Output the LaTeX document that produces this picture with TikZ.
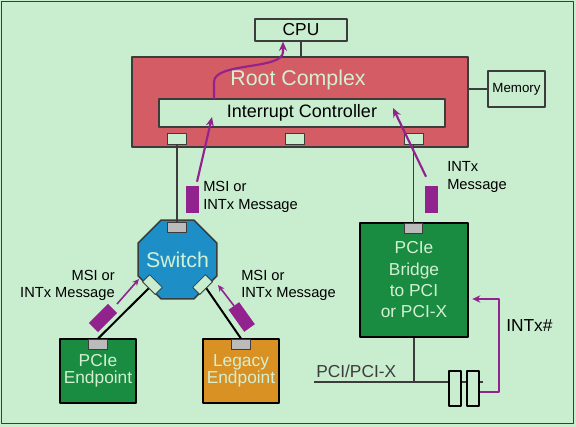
\documentclass[tikz,border=0pt]{standalone}
\usepackage{fontspec}
\setmainfont{Liberation Sans}
\usetikzlibrary{shapes.geometric,arrows.meta}
\definecolor{bggreen}{RGB}{201,237,207}
\definecolor{rcred}{RGB}{212,92,100}
\definecolor{swblue}{RGB}{30,143,198}
\definecolor{boxgreen}{RGB}{26,140,66}
\definecolor{legorange}{RGB}{218,145,36}
\definecolor{msgpurple}{RGB}{146,34,142}
\definecolor{slotgray}{RGB}{187,187,187}
\definecolor{edgegray}{RGB}{60,60,60}
\definecolor{lighttext}{RGB}{210,240,210}

\begin{document}
\begin{tikzpicture}[x=0.75pt, y=-0.75pt, line join=round, >=Stealth,
	box/.style={draw=edgegray, line width=0.9pt, inner sep=0pt},
	slot/.style={draw=edgegray, line width=0.6pt, fill=bggreen, minimum width=14.25pt, minimum height=8.25pt, inner sep=0pt},
	grayslot/.style={draw=edgegray, line width=0.6pt, fill=slotgray, minimum width=14pt, minimum height=7.5pt, inner sep=0pt},
	dev/.style={draw=black, line width=1.5pt, text=lighttext, align=center, inner sep=0pt, font=\fontsize{13}{13}\selectfont},
	pcislot/.style={draw=black, line width=1.2pt, fill=bggreen, minimum width=9pt, minimum height=26.25pt, inner sep=0pt},
	msg/.style={fill=msgpurple, minimum width=9.75pt, minimum height=20.25pt, inner sep=0pt},
	msgtext/.style={font=\fontsize{11}{13}\selectfont, inner sep=0pt},
	irq/.style={msgpurple, line width=1.6pt, -{Stealth[length=7pt,width=6pt]}},
	smallirq/.style={msgpurple, line width=1.2pt, -{Stealth[length=5pt,width=4.5pt]}},
	link/.style={black, line width=1.5pt},
	wire/.style={edgegray, line width=0.9pt}]
	\fill[bggreen] (0,0) rectangle (576,427);
	\useasboundingbox (0,0) rectangle (576,427);
	\draw[edgegray, line width=0.9pt] (1.5,1.5) rectangle (573.5,423.5);
	% root complex and what hangs off it
	\node[box, minimum width=69pt, minimum height=16.5pt, font=\fontsize{13}{15}\selectfont] (cpu) at (301,30) {CPU};
	\node[box, line width=1.5pt, fill=rcred, minimum width=252pt, minimum height=67.5pt] (rc) at (300,102) {};
	\node[text=lighttext, font=\fontsize{16}{18}\selectfont] (rctitle) at (298,80) {Root Complex};
	\node[box, fill=bggreen, minimum width=214.5pt, minimum height=21pt, font=\fontsize{13.5}{15}\selectfont] (ic) at (302,113) {Interrupt Controller};
	\foreach \i/\x in {1/177,2/295,3/413.5} \node[slot] (rcs\i) at (\x,138.5) {};
	\node[box, minimum width=42.75pt, minimum height=27pt, font=\fontsize{10}{12}\selectfont] (mem) at (516.5,89) {Memory};
	\draw[wire] (cpu.south) -- (cpu.south |- rc.north);
	\draw[wire] (rc.east |- mem) -- (mem.west);
	% switch
	\node[regular polygon, regular polygon sides=8, minimum size=64pt, draw=edgegray, line width=1.2pt, fill=swblue, inner sep=0pt] (sw) at (177.5,259.5) {};
	\node[text=lighttext, font=\fontsize{16}{18}\selectfont] (swtitle) at (177.5,260) {Switch};
	\node[grayslot] (swt) at (177,227) {};
	\node[slot, rotate=-45, minimum width=13.5pt, minimum height=7.5pt] (swl) at (152.4,284.6) {};
	\node[slot, rotate=45, minimum width=13.5pt, minimum height=7.5pt] (swr) at (202.6,284.6) {};
	% endpoints and bridge
	\node[dev, fill=boxgreen, minimum width=57pt, minimum height=48pt] (pe) at (98,371) {PCIe\\Endpoint};
	\node[dev, fill=legorange, minimum width=57pt, minimum height=48pt] (le) at (241,371) {Legacy\\Endpoint};
	\node[grayslot] (pes) at (98,344) {};
	\node[grayslot] (les) at (241,344) {};
	\node[dev, fill=boxgreen, minimum width=81pt, minimum height=85.5pt, font=\fontsize{13}{16}\selectfont] (br) at (414,280) {PCIe\\Bridge\\to PCI\\or PCI-X};
	\node[grayslot] (brs) at (413.5,228.5) {};
	\draw[wire] (rcs1.south) -- (swt.north);
	\draw[wire] (rcs3.south) -- (brs.north);
	\draw[link] (pes.north) -- (swl.south);
	\draw[link] (les.north) -- (swr.south);
	% PCI bus
	\coordinate (busl) at (314,382);
	\coordinate (busr) at (483,382);
	\draw[wire] (busl) -- (busr);
	\draw[wire] (br.south) -- (br.south |- busl);
	\node[pcislot] (pci1) at (455,388.5) {};
	\node[pcislot] (pci2) at (473,388.5) {};
	\node[anchor=base west, text=edgegray, font=\fontsize{13}{15}\selectfont, inner sep=0pt] (buslabel) at (316,378) {PCI/PCI-X};
	\coordinate (intxturn) at (499,299);
	\draw[msgpurple, line width=1.2pt, -{Stealth[length=6pt,width=5.5pt]}, shorten >=2.5pt] ([yshift=-2.6pt]pci2.east) -| (intxturn) -- (intxturn -| br.east);
	\node[anchor=west, font=\fontsize{13}{15}\selectfont, inner sep=0pt] (intxlabel) at (506,326) {INTx\#};
	% messages
	\node[msg] (m1) at (192.5,199.5) {};
	\node[msg] (m2) at (431.5,199.5) {};
	\node[msg, rotate=-45] (m3) at (103,318) {};
	\node[msg, rotate=35.5] (m4) at (241.7,317) {};
	\coordinate (ict1) at (212,117);
	\coordinate (ict3) at (393,108);
	\coordinate (icout) at (214,99);
	\coordinate (swin1) at (139,279);
	\coordinate (swin2) at (218,285);
	\draw[irq] ([xshift=3.4pt, yshift=3pt]m1.north) -- (ict1);
	\draw[irq] ([xshift=-4.1pt, yshift=6.75pt]m2.north) -- (ict3);
	\draw[irq] (icout) -- (214,82) .. controls (214,62) and (283,70) .. (283,52) -- ([xshift=-13.5pt]cpu.south);
	\draw[smallirq] ([xshift=10.5pt, yshift=10.5pt]m3.center) -- (swin1);
	\draw[smallirq] ([xshift=-5.7pt, yshift=8.3pt]m4.center) -- (swin2);
	\node[msgtext, anchor=west, align=left] (msg1) at (203,197) {MSI or\\INTx Message};
	\node[msgtext, anchor=west, align=left] (msg2) at (447,177) {INTx\\Message};
	\node[msgtext, anchor=east, align=right] (msg3) at (115,285.5) {MSI or\\INTx Message};
	\node[msgtext, anchor=west, align=left] (msg4) at (241,285.5) {MSI or\\INTx Message};
\end{tikzpicture}
\end{document}
